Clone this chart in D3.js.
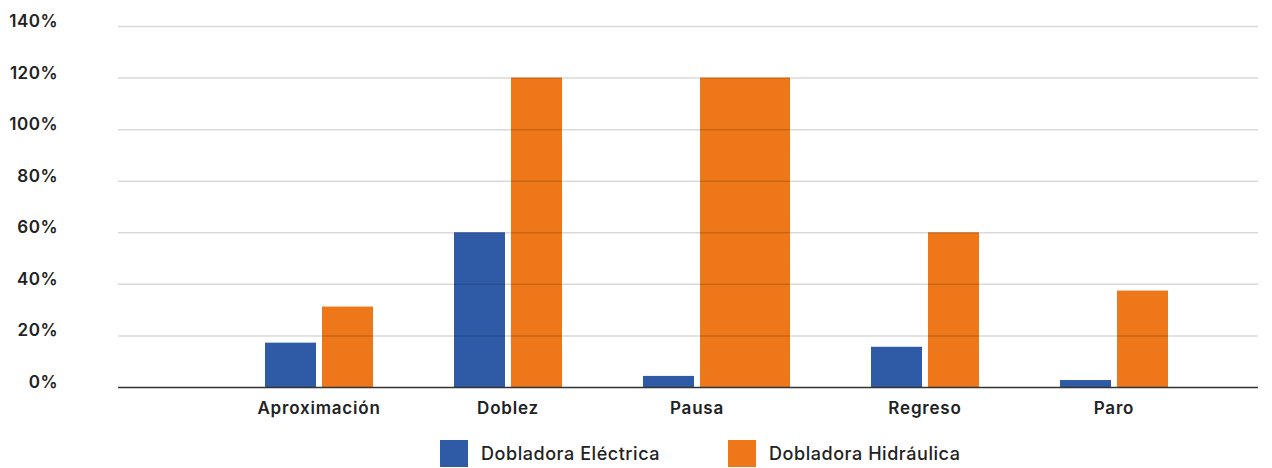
<!DOCTYPE html>
<html lang="es">
<head>
    <meta charset="UTF-8">
    <title>Dobladora Eléctrica vs Hidráulica</title>
    <style>
        body { margin: 0; background: #fff; }
        text { font-family: Inter, "Noto Sans", sans-serif; fill: #222; }
        .tick-label { font-size: 17px; font-weight: 600; letter-spacing: 0.5px; }
        .cat-label { font-size: 17px; font-weight: 600; letter-spacing: 0.8px; }
        .legend-label { font-size: 18px; font-weight: 500; letter-spacing: 0.55px; }
    </style>
</head>
<body>
    <svg width="1272" height="468"></svg>

    <script src="https://d3js.org/d3.v7.min.js"></script>
    <script>
        // Data
        const categories = ["Aproximación", "Doblez", "Pausa", "Regreso", "Paro"];
        const electrica = [17.2, 60, 4.3, 15.6, 2.7];
        const hidraulica = [31.2, 120, 120, 60, 37.4];
        const seriesNames = ["Dobladora Eléctrica", "Dobladora Hidráulica"];
        const yTicks = [0, 20, 40, 60, 80, 100, 120, 140];

        const colors = ["#2f5ba6", "#ee771a"];

        const svg = d3.select("svg");

        const plot = { left: 118, right: 1258, top: 26, bottom: 387 };

        const y = d3.scaleLinear().domain([0, 140]).range([plot.bottom, plot.top]);

        // Bar layout in layout units; the Pausa orange bar is drawn wider in the original
        const barW = 51, innerGap = 6, outerGap = 81, leadGap = 147;
        const wideOrange = { "Pausa": 90 };
        let cursor = leadGap;
        const groups = categories.map((c, i) => {
            const ow = wideOrange[c] || barW;
            const g = { cat: c, start: cursor, ow: ow, i: i };
            cursor += barW + innerGap + ow + outerGap;
            return g;
        });
        const x = d3.scaleLinear().domain([0, 1140]).range([plot.left, plot.right]);

        // Bars
        const bars = [];
        groups.forEach(g => {
            bars.push({ x0: g.start, w: barW, v: electrica[g.i], s: 0 });
            bars.push({ x0: g.start + barW + innerGap, w: g.ow, v: hidraulica[g.i], s: 1 });
        });

        svg.append("g").selectAll("rect")
            .data(bars)
            .enter().append("rect")
            .attr("x", d => x(d.x0))
            .attr("width", d => x(d.x0 + d.w) - x(d.x0))
            .attr("y", d => y(d.v))
            .attr("height", d => y(0) - y(d.v))
            .attr("fill", d => colors[d.s]);

        // Gridlines over the bars (semi-transparent)
        svg.append("g").selectAll("line")
            .data(yTicks.filter(t => t > 0))
            .enter().append("line")
            .attr("x1", plot.left).attr("x2", plot.right)
            .attr("y1", d => y(d) + 0.5).attr("y2", d => y(d) + 0.5)
            .attr("stroke", "rgba(0,0,0,0.15)")
            .attr("stroke-width", 1.5);

        // Baseline
        svg.append("line")
            .attr("x1", plot.left).attr("x2", plot.right)
            .attr("y1", y(0) + 0.5).attr("y2", y(0) + 0.5)
            .attr("stroke", "#333")
            .attr("stroke-width", 1.6);

        // Y tick labels
        svg.append("g").selectAll("text")
            .data(yTicks)
            .enter().append("text")
            .attr("class", "tick-label")
            .attr("x", 58)
            .attr("y", d => y(d) - 5)
            .attr("dy", "0.35em")
            .attr("text-anchor", "end")
            .text(d => d + "%");

        // Category labels, centred on the standard group width
        svg.append("g").selectAll("text")
            .data(groups)
            .enter().append("text")
            .attr("class", "cat-label")
            .attr("x", g => x(g.start + barW + innerGap / 2))
            .attr("y", 414)
            .attr("text-anchor", "middle")
            .text(g => g.cat);

        // Legend
        const legendX = [440, 728];
        const legend = svg.append("g").selectAll("g")
            .data(seriesNames)
            .enter().append("g")
            .attr("transform", (d, i) => `translate(${legendX[i]},440)`);

        legend.append("rect")
            .attr("width", 28).attr("height", 27)
            .attr("fill", (d, i) => colors[i]);

        legend.append("text")
            .attr("class", "legend-label")
            .attr("x", 41)
            .attr("y", 14)
            .attr("dy", "0.35em")
            .text(d => d);
    </script>
</body>
</html>
